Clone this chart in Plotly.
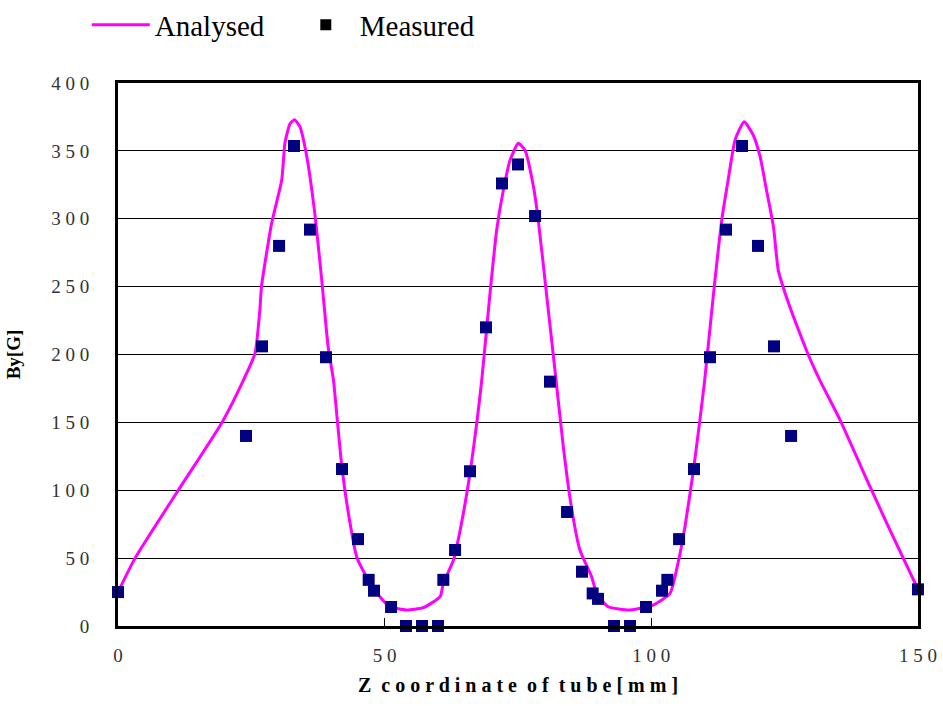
import plotly.graph_objects as go

# Analysed curve
analysed_z = [0, 3.2, 11.3, 19.5, 23.5, 25.7, 26.6, 26.9, 28.8, 30.7, 31.3, 32.25, 33.1, 34.1, 35.4,
              36.9, 38.2, 39.4, 40.4, 41.0, 41.9, 43.2, 44.75, 46.6, 49.1, 51.0, 54.1, 57.25, 60.4,
              61.0, 62.9, 64.4, 66.0, 67.25, 68.2, 69.75, 71.0, 72.25, 73.5, 75.06, 76.3, 77.9, 78.8,
              80.4, 82.0, 83.5, 85.0, 86.6, 88.8, 89.75, 91.9, 96.0, 100.4, 103.5, 105.06, 106.3,
              107.9, 109.1, 110.0, 111.6, 113.2, 114.4, 115.7, 117.4, 119.1, 120.4, 121.6, 122.9,
              123.8, 125.1, 127.6, 129.1, 130.4, 131.6, 135.4, 141.0, 144.75, 150]
analysed_by = [25, 50, 100, 150, 181, 201, 233, 250, 296.6, 328.5, 355.8, 370, 373, 367.8, 345.7,
               304, 255, 205.7, 181, 156.7, 119.9, 83, 51, 36.3, 21.6, 14.2, 11.8, 13.5, 21.6,
               31.4, 48.6, 75.6, 112.5, 149, 181, 245, 291.7, 321, 343, 355.6, 350.6, 323.6, 299,
               242.6, 186, 132, 87.9, 56, 36.3, 24, 14.2, 11.8, 15.5, 24, 47.4, 73,
               115, 151.7, 181, 242.6, 299, 328.5, 358, 371.5, 361.7, 345.7, 321, 294,
               262, 245, 218, 203, 191, 181, 151.7, 102.6, 70.7, 27]

# Measured points
measured_z = [0, 24, 27, 30.2, 33, 36, 39, 42, 45, 47, 48, 51.2, 54, 57, 60, 61, 63.2, 66, 69, 72,
              75, 78.2, 81, 84.2, 87, 89, 90, 93, 96, 99, 102, 103, 105.2, 108, 111, 114, 117,
              120, 123, 126.2, 150]
measured_by = [25, 140, 206, 280, 353.6, 292, 198, 115.6, 64, 34, 26, 14, 0, 0, 0, 34, 56, 114, 220, 326,
               340, 302, 180, 84, 40, 24, 20, 0, 0, 14, 26, 34, 64, 115.6, 198, 292, 353.6,
               280, 206, 140, 27]

x_tickvals = [0, 50, 100, 150]
x_ticktext = ["0", "5 0", "1 0 0", "1 5 0"]
y_tickvals = [0, 50, 100, 150, 200, 250, 300, 350, 400]
y_ticktext = ["0", "5 0", "1 0 0", "1 5 0", "2 0 0", "2 5 0", "3 0 0", "3 5 0", "4 0 0"]

x_title_words = ["Z", "coordinate", "of", "tube[mm]"]
y_title = "By[G]"

x_title = "\u00a0\u00a0".join(" ".join(w) for w in x_title_words)

fig = go.Figure()
fig.add_trace(go.Scatter(x=analysed_z, y=analysed_by, mode="lines", name="Analysed",
                         line=dict(color="#FF00FF", width=3, shape="spline", smoothing=0.5),
                         cliponaxis=False))
fig.add_trace(go.Scatter(x=measured_z, y=measured_by, mode="markers", name="Measured",
                         showlegend=False, cliponaxis=False,
                         marker=dict(symbol="square", size=12, color="#000080")))
fig.add_trace(go.Scatter(x=[None], y=[None], mode="markers", name="Measured",
                         marker=dict(symbol="square", size=11, color="#000000")))

fig.update_layout(
    width=943, height=706,
    margin=dict(l=118, r=25, t=83, b=80, autoexpand=False),
    paper_bgcolor="white", plot_bgcolor="white",
    font=dict(family="Liberation Serif", color="#222"),
    showlegend=True,
    legend=dict(orientation="h", x=-0.039, y=1.107, xanchor="left", yanchor="middle",
                font=dict(size=29, family="Liberation Serif", color="#000"),
                itemwidth=58, entrywidth=132, tracegroupgap=0, bgcolor="rgba(0,0,0,0)"),
    xaxis=dict(range=[0, 150], tickvals=x_tickvals, ticktext=x_ticktext,
               showgrid=False, zeroline=False, showline=True, linecolor="black",
               linewidth=3, mirror=True, ticks="inside", ticklen=8, tickcolor="black",
               ticklabelstandoff=10,
               tickfont=dict(size=19, color="#333"),
               title=dict(text="<b>" + x_title + "</b>",
                          font=dict(size=20, color="#000"), standoff=14)),
    yaxis=dict(range=[0, 400], tickvals=y_tickvals, ticktext=y_ticktext,
               showgrid=True, gridcolor="black", gridwidth=1, zeroline=False,
               showline=True, linecolor="black", linewidth=3, mirror=True,
               ticks="outside", ticklen=22, tickcolor="rgba(0,0,0,0)",
               tickfont=dict(size=19, color="#333"),
               title=dict(text="<b>" + y_title + "</b>", font=dict(size=19, color="#000"), standoff=26)),
)

fig.write_html("out.html", config={"displayModeBar": False},
               post_script="document.body.style.margin='0px';")
